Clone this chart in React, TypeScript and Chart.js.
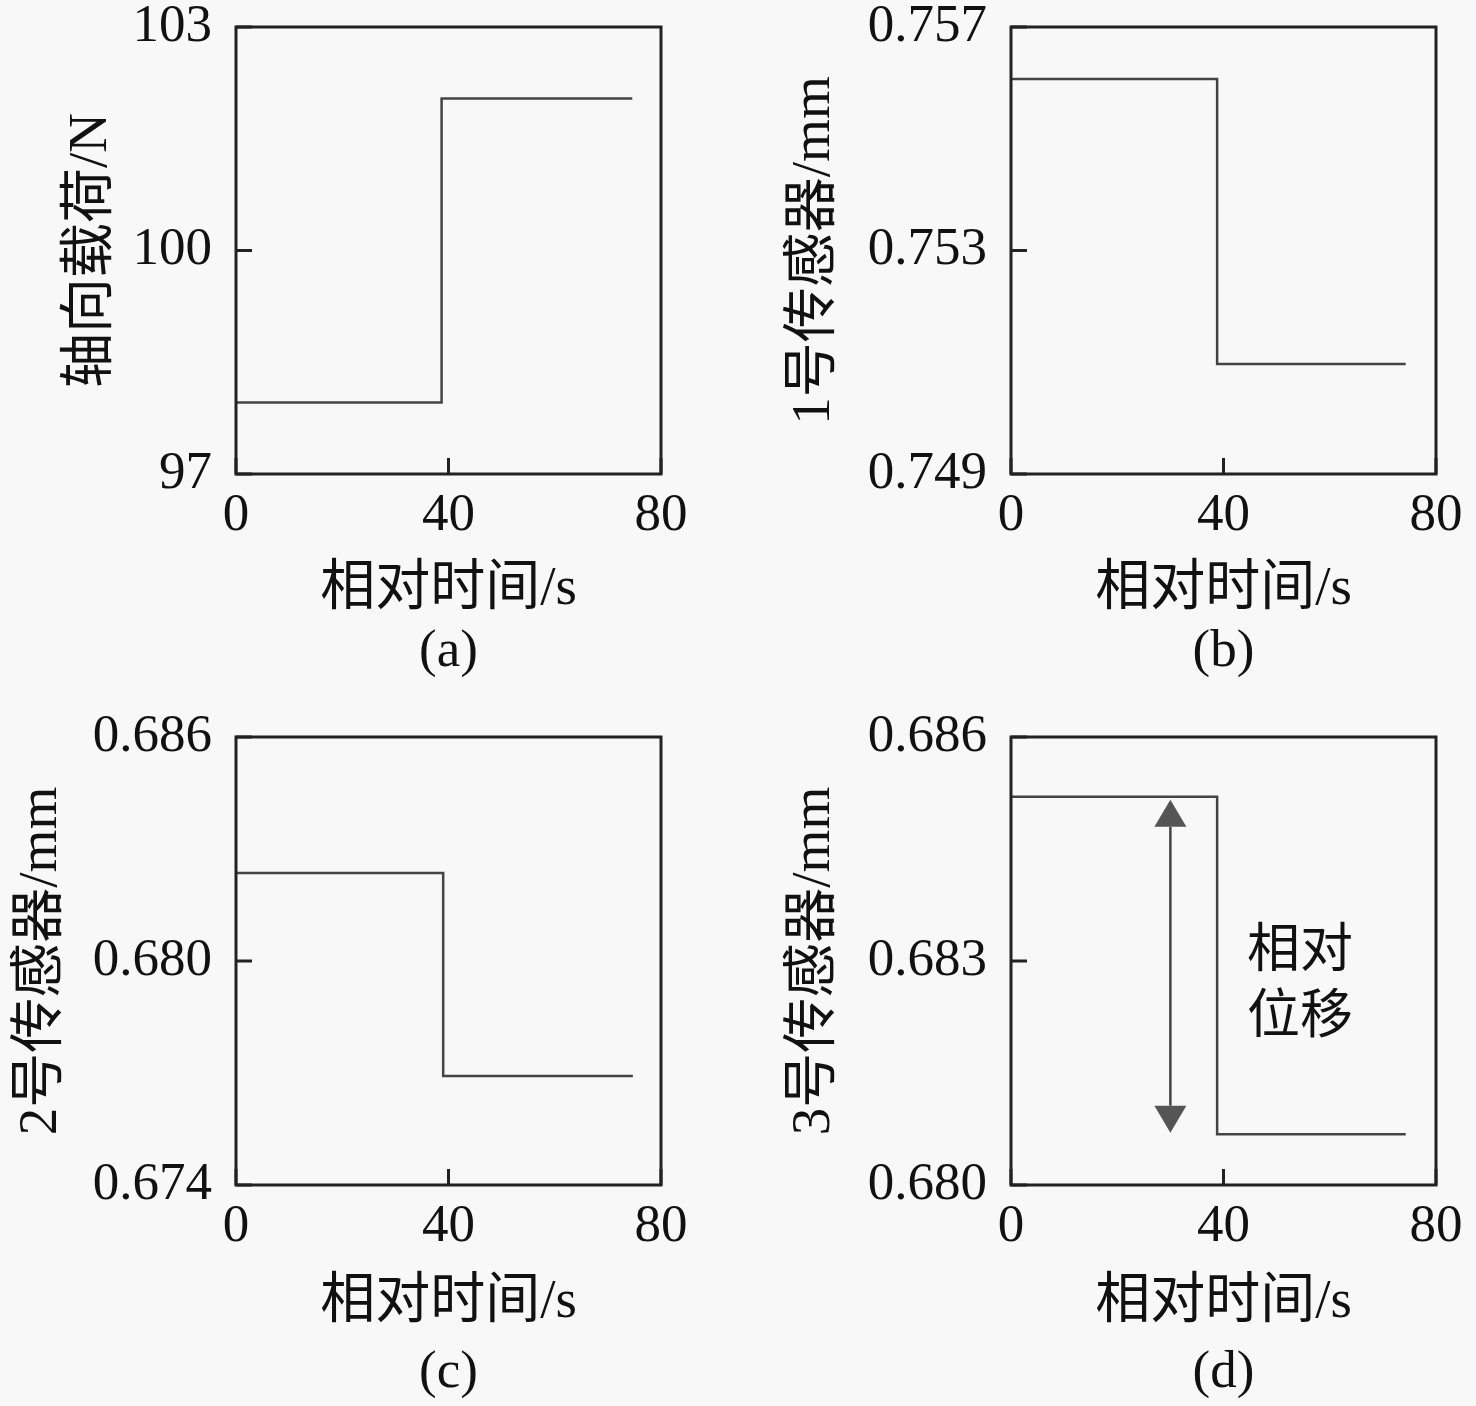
import { useEffect, useRef } from 'react'
import { Chart, registerables } from 'chart.js'

Chart.register(...registerables)

// shared x axis (relative time, s)
const X_TICKS = [0, 40, 80]

// (a) axial load
const TIME_A = [0, 38.7, 38.7, 74.6]
const LOAD_A = [97.96, 97.96, 102.04, 102.04]
const Y_TICKS_A = [97, 100, 103]

// (b) sensor 1
const TIME_B = [0, 38.8, 38.8, 74.3]
const SENSOR1_B = [0.75607, 0.75607, 0.75097, 0.75097]
const Y_TICKS_B = [0.749, 0.753, 0.757]

// (c) sensor 2
const TIME_C = [0, 39.0, 39.0, 74.7]
const SENSOR2_C = [0.68236, 0.68236, 0.67692, 0.67692]
const Y_TICKS_C = [0.674, 0.68, 0.686]

// (d) sensor 3 + relative displacement arrow
const TIME_D = [0, 38.8, 38.8, 74.3]
const SENSOR3_D = [0.6852, 0.6852, 0.68068, 0.68068]
const Y_TICKS_D = [0.68, 0.683, 0.686]
const ARROW_X_D = 30
const ARROW_Y_D = [0.68516, 0.6807]
const NOTE_D = ['相对', '位移']
const NOTE_X_D = 54.4
const NOTE_Y_D = [0.68311, 0.68222]

const FONT = "'Liberation Serif', 'Times New Roman', 'Noto Sans CJK SC', serif"
const TEXT = '#111'
const FRAME = '#222'
const LINE = '#444'

interface PanelDef {
  left: number
  top: number
  width: number
  height: number
  plotLeft: number
  plotRight: number
  plotTop: number
  plotBottom: number
  yTitleX: number
  xTitleY: number
  tagY: number
  time: number[]
  values: number[]
  yTicks: number[]
  digits: number
  yTitle: string
  tag: string
  arrow?: boolean
}

const PANELS: PanelDef[] = [
  {
    left: 0, top: 0, width: 740, height: 700,
    plotLeft: 236, plotRight: 661, plotTop: 27, plotBottom: 474,
    yTitleX: 92, xTitleY: 590, tagY: 652,
    time: TIME_A, values: LOAD_A, yTicks: Y_TICKS_A, digits: 0,
    yTitle: '轴向载荷/N', tag: '(a)',
  },
  {
    left: 775, top: 0, width: 740, height: 700,
    plotLeft: 236, plotRight: 661, plotTop: 27, plotBottom: 474,
    yTitleX: 40, xTitleY: 590, tagY: 652,
    time: TIME_B, values: SENSOR1_B, yTicks: Y_TICKS_B, digits: 3,
    yTitle: '1号传感器/mm', tag: '(b)',
  },
  {
    left: 0, top: 710, width: 740, height: 696,
    plotLeft: 236, plotRight: 661, plotTop: 27, plotBottom: 475,
    yTitleX: 42, xTitleY: 593, tagY: 663,
    time: TIME_C, values: SENSOR2_C, yTicks: Y_TICKS_C, digits: 3,
    yTitle: '2号传感器/mm', tag: '(c)',
  },
  {
    left: 775, top: 710, width: 740, height: 696,
    plotLeft: 236, plotRight: 661, plotTop: 27, plotBottom: 475,
    yTitleX: 40, xTitleY: 593, tagY: 663,
    time: TIME_D, values: SENSOR3_D, yTicks: Y_TICKS_D, digits: 3,
    yTitle: '3号传感器/mm', tag: '(d)', arrow: true,
  },
]

function Panel({ p }: { p: PanelDef }) {
  const canvasRef = useRef<HTMLCanvasElement>(null)

  useEffect(() => {
    if (!canvasRef.current) return
    const ctx = canvasRef.current.getContext('2d')
    if (!ctx) return

    const X_SCALE_H = 150
    const titleLine = 55 * 1.2

    const framePlugin = {
      id: 'frame',
      afterDatasetsDraw(chart: any) {
        const { ctx: c, chartArea: a, scales } = chart
        const xs = scales.x
        const ys = scales.y
        c.save()
        c.strokeStyle = FRAME
        c.lineWidth = 3
        c.strokeRect(a.left, a.top, a.right - a.left, a.bottom - a.top)
        // inward ticks
        c.beginPath()
        X_TICKS.forEach((v) => {
          const px = xs.getPixelForValue(v)
          c.moveTo(px, a.bottom)
          c.lineTo(px, a.bottom - 16)
        })
        p.yTicks.forEach((v) => {
          const py = ys.getPixelForValue(v)
          c.moveTo(a.left, py)
          c.lineTo(a.left + 16, py)
        })
        c.stroke()

        if (p.arrow) {
          const ax = xs.getPixelForValue(ARROW_X_D)
          const y1 = ys.getPixelForValue(ARROW_Y_D[0])
          const y2 = ys.getPixelForValue(ARROW_Y_D[1])
          const hh = 27
          const hw = 16
          c.strokeStyle = LINE
          c.lineWidth = 2.5
          c.beginPath()
          c.moveTo(ax, y1 + hh)
          c.lineTo(ax, y2 - hh)
          c.stroke()
          c.fillStyle = '#555'
          c.beginPath()
          c.moveTo(ax, y1)
          c.lineTo(ax - hw, y1 + hh)
          c.lineTo(ax + hw, y1 + hh)
          c.closePath()
          c.fill()
          c.beginPath()
          c.moveTo(ax, y2)
          c.lineTo(ax - hw, y2 - hh)
          c.lineTo(ax + hw, y2 - hh)
          c.closePath()
          c.fill()

          c.fillStyle = TEXT
          c.font = `53px ${FONT}`
          c.textAlign = 'center'
          c.textBaseline = 'middle'
          const nx = xs.getPixelForValue(NOTE_X_D)
          NOTE_D.forEach((t, i) => c.fillText(t, nx, ys.getPixelForValue(NOTE_Y_D[i])))
        }

        c.fillStyle = TEXT
        c.font = `53px ${FONT}`
        c.textAlign = 'center'
        c.textBaseline = 'middle'
        c.fillText(p.tag, (a.left + a.right) / 2, p.tagY)
        c.restore()
      },
    }

    const chart = new Chart(ctx, {
      type: 'line',
      data: {
        datasets: [
          {
            data: p.time.map((x, i) => ({ x, y: p.values[i] })),
            borderColor: LINE,
            borderWidth: 2.5,
            pointRadius: 0,
            fill: false,
            tension: 0,
          },
        ],
      },
      options: {
        responsive: false,
        animation: false,
        events: [],
        layout: {
          padding: {
            left: 0,
            top: p.plotTop,
            right: p.width - p.plotRight,
            bottom: p.height - p.plotBottom - X_SCALE_H,
          },
        },
        plugins: {
          legend: { display: false },
          tooltip: { enabled: false },
        },
        scales: {
          x: {
            type: 'linear',
            min: 0,
            max: 80,
            afterBuildTicks: (s: any) => {
              s.ticks = X_TICKS.map((value) => ({ value }))
            },
            afterFit: (s: any) => {
              s.height = X_SCALE_H
            },
            grid: { display: false, drawTicks: false, tickLength: 0 },
            border: { display: false },
            ticks: {
              color: TEXT,
              font: { family: FONT, size: 53, lineHeight: 0.9 },
              padding: 18,
              maxRotation: 0,
              autoSkip: false,
              callback: (v: any) => String(v),
            },
            title: {
              display: true,
              text: '相对时间/s',
              color: TEXT,
              font: { family: FONT, size: 55 },
              padding: { top: 0, bottom: p.plotBottom + X_SCALE_H - titleLine / 2 - p.xTitleY },
            },
          },
          y: {
            type: 'linear',
            min: p.yTicks[0],
            max: p.yTicks[p.yTicks.length - 1],
            afterBuildTicks: (s: any) => {
              s.ticks = p.yTicks.map((value) => ({ value }))
            },
            afterFit: (s: any) => {
              s.width = p.plotLeft
            },
            grid: { display: false, drawTicks: false, tickLength: 0 },
            border: { display: false },
            ticks: {
              color: TEXT,
              // tiny line height keeps the label padding from pushing the plot top down
              font: { family: FONT, size: 53, lineHeight: 0.02 },
              padding: 24,
              autoSkip: false,
              callback: (v: any) => Number(v).toFixed(p.digits),
            },
            title: {
              display: true,
              text: p.yTitle,
              color: TEXT,
              font: { family: FONT, size: 55 },
              padding: { top: p.yTitleX - titleLine / 2, bottom: 0 },
            },
          },
        },
      },
      plugins: [framePlugin],
    })

    return () => {
      chart.destroy()
    }
  }, [p])

  return (
    <canvas
      ref={canvasRef}
      width={p.width}
      height={p.height}
      style={{
        position: 'absolute',
        left: p.left,
        top: p.top,
        width: p.width,
        height: p.height,
        display: 'block',
      }}
    />
  )
}

export default function App() {
  return (
    <div
      style={{
        position: 'fixed',
        left: 0,
        top: 0,
        width: 1476,
        height: 1406,
        overflow: 'hidden',
        background: '#f8f8f8',
      }}
    >
      {PANELS.map((p) => (
        <Panel key={p.tag} p={p} />
      ))}
    </div>
  )
}
